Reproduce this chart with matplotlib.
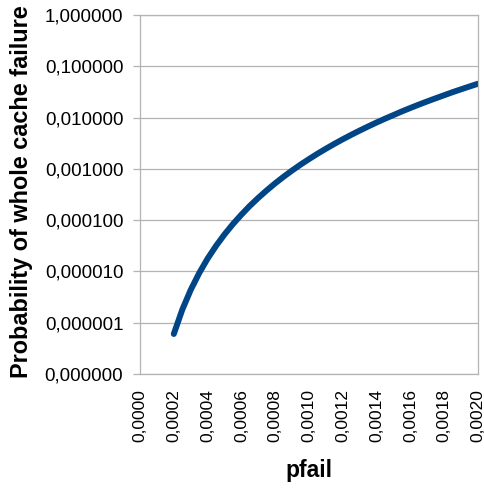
import numpy as np
import matplotlib
matplotlib.use("Agg")
import matplotlib.pyplot as plt
from matplotlib.ticker import FixedLocator, FuncFormatter, NullLocator

plt.rcParams['font.family'] = ['Liberation Sans', 'DejaVu Sans']

# probability of losing the whole cache vs per-cell failure probability
pfail = [0.00020, 0.00025, 0.00030, 0.00035, 0.00040, 0.00045, 0.00050, 0.00055,
         0.00060, 0.00065, 0.00070, 0.00075, 0.00080, 0.00085, 0.00090, 0.00095,
         0.00100, 0.00105, 0.00110, 0.00115, 0.00120, 0.00125, 0.00130, 0.00135,
         0.00140, 0.00145, 0.00150, 0.00155, 0.00160, 0.00165, 0.00170, 0.00175,
         0.00180, 0.00185, 0.00190, 0.00195, 0.00200]
p_cache = [6.03e-7, 1.79e-6, 4.36e-6, 9.25e-6, 1.78e-5, 3.15e-5, 5.27e-5, 8.39e-5,
           1.28e-4, 1.90e-4, 2.72e-4, 3.81e-4, 5.23e-4, 7.03e-4, 9.29e-4, 1.21e-3,
           1.55e-3, 1.97e-3, 2.47e-3, 3.07e-3, 3.78e-3, 4.61e-3, 5.58e-3, 6.71e-3,
           8.02e-3, 9.51e-3, 1.12e-2, 1.32e-2, 1.54e-2, 1.79e-2, 2.07e-2, 2.38e-2,
           2.73e-2, 3.13e-2, 3.56e-2, 4.04e-2, 4.57e-2]

xticks = [i * 0.0002 for i in range(11)]
yticks = [10.0 ** e for e in range(-7, 1)]

grey = '#b3b3b3'

fig = plt.figure(figsize=(4.85, 4.91), dpi=100)
ax = fig.add_axes([140 / 485, 1 - 374 / 491, 338 / 485, 359 / 491])

ax.plot(pfail, p_cache, color='#004586', lw=4.3, solid_capstyle='round',
        solid_joinstyle='round')

ax.set_yscale('log')
ax.set_xlim(0, 0.002)
ax.set_ylim(1e-7, 1)

ax.xaxis.set_major_locator(FixedLocator(xticks))
ax.yaxis.set_major_locator(FixedLocator(yticks))
ax.yaxis.set_minor_locator(NullLocator())
ax.xaxis.set_major_formatter(FuncFormatter(lambda v, p: f"{v:.4f}".replace('.', ',')))
ax.yaxis.set_major_formatter(FuncFormatter(lambda v, p: f"{v:.6f}".replace('.', ',')))

ax.grid(axis='y', color=grey, lw=0.9)
ax.set_axisbelow(True)
for s in ax.spines.values():
    s.set_color(grey)
    s.set_linewidth(0.9)

ax.tick_params(axis='x', length=0, pad=11, labelsize=12.5, labelrotation=90)
ax.tick_params(axis='y', length=5, width=0.9, color=grey, pad=7, labelsize=13.5)

ax.set_xlabel('pfail', fontsize=16.5, fontweight='bold')
ax.xaxis.set_label_coords(0.5, -0.27)
ax.xaxis.label.set_va('center')
ax.set_ylabel('Probability of whole cache failure', fontsize=16.9, fontweight='bold')
ax.yaxis.set_label_coords(-0.35, 0.507)
ax.yaxis.label.set_va('center')

fig.savefig('out.png', dpi=100)
